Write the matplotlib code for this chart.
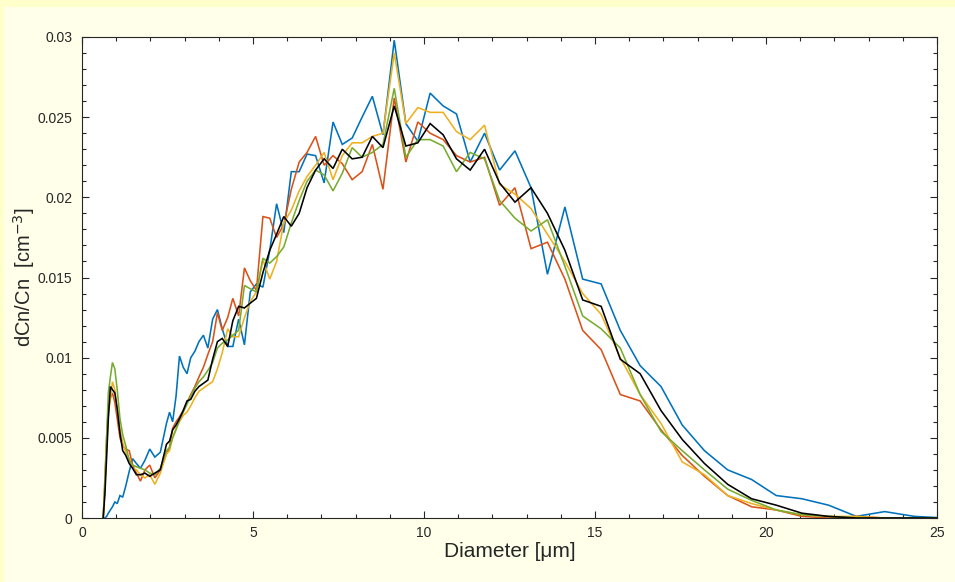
import matplotlib
matplotlib.use("Agg")
import matplotlib.pyplot as plt
from matplotlib.ticker import MultipleLocator, FixedLocator
from matplotlib.patches import Rectangle

plt.rcParams['font.family'] = ['Liberation Sans', 'DejaVu Sans']

# Bin centre diameters (um)
diameter = [0.62, 0.67, 0.72, 0.77, 0.83, 0.89, 0.96, 1.03, 1.11, 1.19,
            1.28, 1.38, 1.48, 1.59, 1.71, 1.84, 1.98, 2.13, 2.29, 2.47,
            2.56, 2.65, 2.75, 2.85, 2.96, 3.07, 3.18, 3.30, 3.42, 3.55,
            3.68, 3.82, 3.96, 4.10, 4.26, 4.41, 4.58, 4.75, 4.92, 5.10,
            5.29, 5.49, 5.69, 5.90, 6.12, 6.35, 6.58, 6.83, 7.08, 7.34,
            7.61, 7.90, 8.19, 8.49, 8.80, 9.13, 9.47, 9.82, 10.18, 10.56,
            10.95, 11.35, 11.77, 12.21, 12.66, 13.13, 13.61, 14.12, 14.64, 15.18,
            15.74, 16.32, 16.93, 17.55, 18.20, 18.88, 19.58, 20.30, 21.05, 21.83,
            22.64, 23.47, 24.34, 25.24]

run_blue = [0, 0, 0.0001, 0.0003, 0.0005, 0.0007, 0.0010, 0.0009, 0.0014, 0.0013,
            0.0020, 0.0029, 0.0037, 0.0034, 0.0031, 0.0036, 0.0043, 0.0038, 0.0041, 0.0059,
            0.0066, 0.0060, 0.0076, 0.0101, 0.0094, 0.0090, 0.0100, 0.0104, 0.0110, 0.0114,
            0.0106, 0.0124, 0.0130, 0.0118, 0.0107, 0.0107, 0.0124, 0.0108, 0.0141, 0.0146,
            0.0144, 0.0167, 0.0196, 0.0178, 0.0216, 0.0216, 0.0227, 0.0226, 0.0209, 0.0247,
            0.0233, 0.0237, 0.0250, 0.0263, 0.0239, 0.0298, 0.0246, 0.0235, 0.0265, 0.0257,
            0.0252, 0.0222, 0.0240, 0.0217, 0.0229, 0.0206, 0.0152, 0.0194, 0.0149, 0.0146,
            0.0117, 0.0095, 0.0082, 0.0058, 0.0042, 0.0030, 0.0024, 0.0014, 0.0012, 0.0008,
            0.0001, 0.0004, 0.0001, 0]

run_orange = [0, 0.0025, 0.0050, 0.0068, 0.0075, 0.0078, 0.0072, 0.0062, 0.0050, 0.0045,
              0.0043, 0.0042, 0.0033, 0.0028, 0.0023, 0.0030, 0.0033, 0.0025, 0.0030, 0.0040,
              0.0044, 0.0056, 0.0060, 0.0063, 0.0067, 0.0072, 0.0077, 0.0082, 0.0088, 0.0094,
              0.0102, 0.0110, 0.0128, 0.0117, 0.0125, 0.0137, 0.0126, 0.0156, 0.0148, 0.0142,
              0.0188, 0.0187, 0.0175, 0.0183, 0.0205, 0.0222, 0.0228, 0.0238, 0.0220, 0.0226,
              0.0221, 0.0211, 0.0216, 0.0233, 0.0205, 0.0262, 0.0222, 0.0247, 0.0240, 0.0236,
              0.0226, 0.0222, 0.0225, 0.0195, 0.0206, 0.0168, 0.0172, 0.0149, 0.0117, 0.0105,
              0.0077, 0.0073, 0.0055, 0.0039, 0.0026, 0.0014, 0.0007, 0.0005, 0.0001, 0,
              0.0001, 0, 0, 0]

run_yellow = [0, 0.0020, 0.0045, 0.0065, 0.0074, 0.0085, 0.0080, 0.0068, 0.0055, 0.0047,
              0.0041, 0.0037, 0.0031, 0.0030, 0.0027, 0.0025, 0.0027, 0.0021, 0.0028, 0.0040,
              0.0042, 0.0050, 0.0056, 0.0060, 0.0064, 0.0066, 0.0070, 0.0075, 0.0079, 0.0081,
              0.0083, 0.0085, 0.0093, 0.0103, 0.0118, 0.0113, 0.0113, 0.0125, 0.0135, 0.0141,
              0.0161, 0.0149, 0.0160, 0.0184, 0.0192, 0.0204, 0.0213, 0.0220, 0.0228, 0.0211,
              0.0226, 0.0234, 0.0234, 0.0238, 0.0240, 0.0290, 0.0246, 0.0256, 0.0253, 0.0253,
              0.0241, 0.0236, 0.0245, 0.0208, 0.0202, 0.0193, 0.0177, 0.0160, 0.0140, 0.0127,
              0.0100, 0.0077, 0.0059, 0.0035, 0.0027, 0.0014, 0.0009, 0.0005, 0.0002, 0.0001,
              0.0001, 0, 0, 0]

run_green = [0, 0.0020, 0.0050, 0.0078, 0.0088, 0.0097, 0.0093, 0.0080, 0.0062, 0.0052,
             0.0045, 0.0036, 0.0033, 0.0032, 0.0031, 0.0030, 0.0028, 0.0027, 0.0031, 0.0042,
             0.0044, 0.0050, 0.0055, 0.0061, 0.0066, 0.0071, 0.0076, 0.0081, 0.0085, 0.0088,
             0.0092, 0.0097, 0.0106, 0.0109, 0.0111, 0.0114, 0.0117, 0.0145, 0.0143, 0.0141,
             0.0162, 0.0159, 0.0163, 0.0169, 0.0184, 0.0198, 0.0210, 0.0217, 0.0214, 0.0204,
             0.0215, 0.0231, 0.0225, 0.0228, 0.0233, 0.0268, 0.0225, 0.0236, 0.0236, 0.0232,
             0.0216, 0.0228, 0.0224, 0.0198, 0.0187, 0.0179, 0.0186, 0.0157, 0.0126, 0.0118,
             0.0106, 0.0077, 0.0054, 0.0042, 0.0030, 0.0018, 0.0011, 0.0005, 0.0002, 0.0001,
             0, 0, 0, 0]

run_mean = [0, 0.0015, 0.0038, 0.0062, 0.0082, 0.0080, 0.0078, 0.0068, 0.0053, 0.0042,
            0.0039, 0.0034, 0.0031, 0.0027, 0.0027, 0.0028, 0.0026, 0.0028, 0.0030, 0.0046,
            0.0048, 0.0055, 0.0058, 0.0062, 0.0067, 0.0073, 0.0074, 0.0079, 0.0082, 0.0084,
            0.0086, 0.0099, 0.0110, 0.0112, 0.0107, 0.0123, 0.0132, 0.0131, 0.0134, 0.0137,
            0.0153, 0.0167, 0.0177, 0.0188, 0.0182, 0.0190, 0.0206, 0.0217, 0.0224, 0.0218,
            0.0230, 0.0224, 0.0225, 0.0238, 0.0231, 0.0257, 0.0232, 0.0234, 0.0246, 0.0239,
            0.0224, 0.0217, 0.0230, 0.0209, 0.0197, 0.0206, 0.0190, 0.0167, 0.0136, 0.0132,
            0.0099, 0.0090, 0.0067, 0.0049, 0.0034, 0.0021, 0.0012, 0.0008, 0.0003, 0.0001,
            0, 0, 0, 0]

x_ticks = [0, 5, 10, 15, 20, 25]
y_ticks = [0, 0.005, 0.01, 0.015, 0.02, 0.025, 0.03]
y_tick_labels = ['0', '0.005', '0.01', '0.015', '0.02', '0.025', '0.03']

series = [
    (run_blue, '#0072BD'),
    (run_orange, '#D95319'),
    (run_yellow, '#EDB120'),
    (run_green, '#77AC30'),
    (run_mean, '#000000'),
]

fig = plt.figure(figsize=(9.55, 5.82), dpi=100, facecolor='#FFFFEA')
# pale frame along the top and left edges of the window
fig.patches.append(Rectangle((0, 1 - 7 / 582), 1, 7 / 582, transform=fig.transFigure,
                             facecolor='#FFFFCC', edgecolor='none', zorder=0))
fig.patches.append(Rectangle((0, 0), 4 / 955, 1, transform=fig.transFigure,
                             facecolor='#FFFFCC', edgecolor='none', zorder=0))

ax = fig.add_axes([82 / 955, 1 - 518 / 582, (937 - 82) / 955, (518 - 37) / 582])
ax.set_facecolor('white')

for values, color in series:
    ax.plot(diameter, values, color=color, lw=1.15, solid_joinstyle='miter')

ax.set_xlim(0, 25)
ax.set_ylim(0, 0.03)
ax.xaxis.set_major_locator(FixedLocator(x_ticks))
ax.yaxis.set_major_locator(FixedLocator(y_ticks))
ax.set_yticklabels(y_tick_labels)
ax.xaxis.set_minor_locator(MultipleLocator(1))
ax.yaxis.set_minor_locator(MultipleLocator(0.001))

axis_color = '#262626'
for side in ax.spines.values():
    side.set_color(axis_color)
    side.set_linewidth(0.8)
ax.tick_params(which='both', direction='in', top=True, right=True,
               color=axis_color, width=0.8, labelcolor=axis_color, labelsize=10)
ax.tick_params(which='major', length=5)
ax.tick_params(which='minor', length=3)
ax.tick_params(axis='x', which='major', pad=6)
ax.tick_params(axis='y', which='major', pad=7)

ax.set_xlabel('Diameter [μm]', fontsize=15, color=axis_color, labelpad=1)
ax.set_ylabel('dCn/Cn  [cm$^{-3}$]', fontsize=14.5, color=axis_color, labelpad=0.5)

fig.savefig('out.png', dpi=100, facecolor=fig.get_facecolor())
